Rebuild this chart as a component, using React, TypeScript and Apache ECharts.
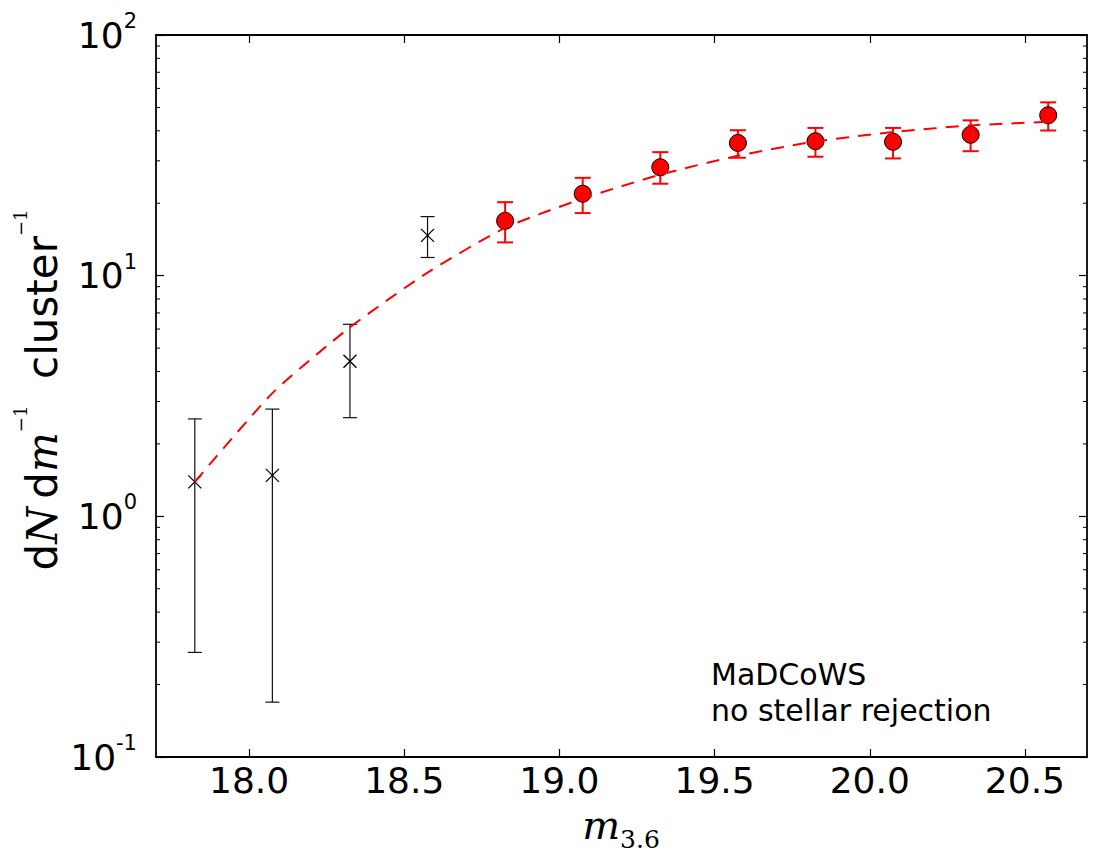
import React, { useEffect, useRef } from 'react';
import * as echarts from 'echarts';

// Bins excluded from the fit (black crosses)
const excludedX = [17.825, 18.075, 18.325, 18.575];
const excludedY = [1.39, 1.48, 4.41, 14.7];
const excludedLow = [0.272, 0.169, 2.57, 11.9];
const excludedHigh = [2.54, 2.79, 6.28, 17.6];

// Bins used in the fit (red circles)
const fittedX = [18.825, 19.075, 19.325, 19.575, 19.825, 20.075, 20.325, 20.575];
const fittedY = [16.9, 21.9, 28.2, 35.6, 36.2, 36.0, 38.5, 46.4];
const fittedLow = [13.75, 18.2, 24.1, 30.9, 31.2, 30.7, 32.9, 40.1];
const fittedHigh = [20.2, 25.5, 32.6, 40.2, 41.1, 41.1, 44.2, 52.5];

// Model curve (red dashed)
const modelX = [17.825, 18.075, 18.325, 18.575, 18.825, 19.075, 19.325, 19.575, 19.825, 20.075, 20.325, 20.575];
const modelY = [1.39, 3.25, 6.1, 10.3, 15.8, 20.9, 26.3, 31.5, 36.1, 39.5, 42.1, 43.6];

// Axes
const xMin = 17.7;
const xMax = 20.7;
const xTicks = [18.0, 18.5, 19.0, 19.5, 20.0, 20.5];
const yMin = 0.1;
const yMax = 100;
const yMinorTicks = [0.2, 0.3, 0.4, 0.5, 0.6, 0.7, 0.8, 0.9, 2, 3, 4, 5, 6, 7, 8, 9, 20, 30, 40, 50, 60, 70, 80, 90];

const SANS = 'DejaVu Sans';
const SERIF = 'DejaVu Serif';

function errorBarSeries(xs: number[], lo: number[], hi: number[], color: string, width: number, capHalf: number, z: number) {
  return {
    type: 'custom',
    xAxisIndex: 0,
    yAxisIndex: 0,
    z,
    silent: true,
    data: xs.map((x, i) => [x, lo[i], hi[i]]),
    encode: { x: 0, y: [1, 2] },
    renderItem: (params: any, api: any) => {
      const x = api.value(0);
      const pLo = api.coord([x, api.value(1)]);
      const pHi = api.coord([x, api.value(2)]);
      const style = { stroke: color, lineWidth: width };
      return {
        type: 'group',
        children: [
          { type: 'line', shape: { x1: pLo[0], y1: pLo[1], x2: pHi[0], y2: pHi[1] }, style },
          { type: 'line', shape: { x1: pLo[0] - capHalf, y1: pLo[1], x2: pLo[0] + capHalf, y2: pLo[1] }, style },
          { type: 'line', shape: { x1: pHi[0] - capHalf, y1: pHi[1], x2: pHi[0] + capHalf, y2: pHi[1] }, style },
        ],
      };
    },
  };
}

export default function App() {
  const ref = useRef<HTMLDivElement>(null);

  useEffect(() => {
    if (!ref.current) return;
    const chart = echarts.init(ref.current, null, { renderer: 'svg' });

    const axisLine = { show: true, onZero: false, lineStyle: { color: '#000', width: 1.8 } };
    const majorTick = { show: true, inside: true, length: 8, lineStyle: { color: '#000', width: 1.2 } };

    const option: any = {
      animation: false,
      backgroundColor: '#fff',
      grid: { left: 156, right: 14, top: 35, bottom: 110, containLabel: false },
      xAxis: [
        {
          type: 'value',
          min: xMin,
          max: xMax,
          position: 'bottom',
          axisLine,
          axisTick: { ...majorTick, customValues: xTicks },
          axisLabel: {
            customValues: xTicks,
            formatter: (v: number) => v.toFixed(1),
            fontFamily: SANS,
            fontSize: 36,
            lineHeight: 36,
            color: '#000',
            margin: 5,
          },
          splitLine: { show: false },
        },
        {
          type: 'value',
          min: xMin,
          max: xMax,
          position: 'top',
          axisLine,
          axisTick: { ...majorTick, customValues: xTicks },
          axisLabel: { show: false },
          splitLine: { show: false },
        },
      ],
      yAxis: [
        {
          type: 'log',
          logBase: 10,
          min: yMin,
          max: yMax,
          position: 'left',
          axisLine,
          axisTick: majorTick,
          axisLabel: {
            margin: 19,
            color: '#000',
            formatter: (v: number) => {
              const e = Math.round(Math.log10(v));
              return `{b|10}{s|${e}}`;
            },
            rich: {
              b: { fontFamily: SANS, fontSize: 36, lineHeight: 36, color: '#000', verticalAlign: 'middle' },
              s: { fontFamily: SANS, fontSize: 21, lineHeight: 21, color: '#000', verticalAlign: 'middle', padding: [0, 0, 28, 0] },
            },
          },
          splitLine: { show: false },
          minorTick: { show: false },
        },
        {
          type: 'log',
          logBase: 10,
          min: yMin,
          max: yMax,
          position: 'right',
          axisLine,
          axisTick: majorTick,
          axisLabel: { show: false },
          splitLine: { show: false },
        },
      ],
      series: [
        // minor log ticks on both vertical sides
        {
          type: 'custom',
          xAxisIndex: 0,
          yAxisIndex: 0,
          silent: true,
          z: 1,
          data: yMinorTicks.map((v) => [xMin, v]),
          encode: { x: 0, y: 1 },
          renderItem: (params: any, api: any) => {
            const p = api.coord([xMin, api.value(1)]);
            const cs = params.coordSys;
            const style = { stroke: '#000', lineWidth: 1 };
            return {
              type: 'group',
              children: [
                { type: 'line', shape: { x1: cs.x, y1: p[1], x2: cs.x + 4, y2: p[1] }, style },
                { type: 'line', shape: { x1: cs.x + cs.width - 4, y1: p[1], x2: cs.x + cs.width, y2: p[1] }, style },
              ],
            };
          },
        },
        errorBarSeries(excludedX, excludedLow, excludedHigh, '#111', 1.2, 7, 2),
        errorBarSeries(fittedX, fittedLow, fittedHigh, '#ff0000', 2, 8, 2),
        {
          type: 'scatter',
          z: 3,
          data: excludedX.map((x, i) => [x, excludedY[i]]),
          symbol: 'path://M0 0L10 10M10 0L0 10',
          symbolSize: 13,
          itemStyle: { color: 'transparent', borderColor: '#000', borderWidth: 1.3, opacity: 1 },
        },
        {
          type: 'scatter',
          z: 3,
          data: fittedX.map((x, i) => [x, fittedY[i]]),
          symbol: 'circle',
          symbolSize: 17,
          itemStyle: { color: '#ff0000', borderColor: '#000', borderWidth: 1, opacity: 1 },
        },
        {
          type: 'line',
          z: 4,
          data: modelX.map((x, i) => [x, modelY[i]]),
          smooth: 0.2,
          showSymbol: false,
          lineStyle: { color: '#ff0000', width: 2, type: [13, 9] },
        },
      ],
      graphic: [
        {
          type: 'text',
          x: 711,
          y: 656.6,
          style: {
            text: 'MaDCoWS\nno stellar rejection',
            fontFamily: SANS,
            fontSize: 30,
            lineHeight: 36,
            fill: '#000',
            align: 'left',
            verticalAlign: 'top',
          },
        },
        {
          type: 'text',
          x: 42.5,
          y: 390,
          rotation: Math.PI / 2,
          style: {
            text: '{s|d}{i|N}{s|\u2009d}{i|m}{sup|\u22121}{s|  cluster}{sup|\u22121}',
            align: 'center',
            verticalAlign: 'middle',
            fill: '#000',
            rich: {
              s: { fontFamily: SANS, fontSize: 42, lineHeight: 48, fill: '#000', verticalAlign: 'middle' },
              i: { fontFamily: SERIF, fontStyle: 'italic', fontSize: 42, lineHeight: 48, fill: '#000', verticalAlign: 'middle' },
              sup: { fontFamily: SERIF, fontSize: 18, lineHeight: 18, fill: '#000', verticalAlign: 'middle', padding: [0, 0, 44, 0] },
            },
          },
        },
        {
          type: 'text',
          x: 621,
          y: 825,
          style: {
            text: '{i|m}{sub|3.6}',
            align: 'center',
            verticalAlign: 'middle',
            fill: '#000',
            rich: {
              i: { fontFamily: SERIF, fontStyle: 'italic', fontSize: 40, lineHeight: 44, fill: '#000', verticalAlign: 'middle' },
              sub: { fontFamily: SERIF, fontSize: 25, lineHeight: 25, fill: '#000', verticalAlign: 'middle', padding: [29, 0, 0, 0] },
            },
          },
        },
      ],
    };

    chart.setOption(option);
    return () => chart.dispose();
  }, []);

  return <div ref={ref} style={{ position: 'absolute', left: 0, top: 0, width: 1101, height: 867 }} />;
}
